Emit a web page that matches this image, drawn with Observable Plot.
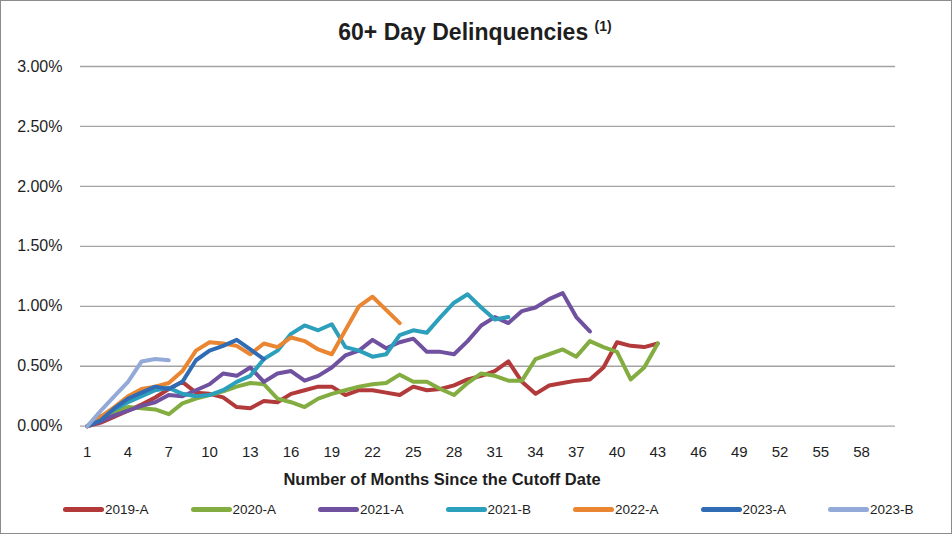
<!DOCTYPE html>
<html>
<head>
<meta charset="utf-8">
<script src="https://cdn.jsdelivr.net/npm/d3@7"></script>
<script src="https://cdn.jsdelivr.net/npm/@observablehq/plot@0.6"></script>
<style>
  html, body { margin: 0; padding: 0; background: #fff; }
  #wrap { position: relative; width: 952px; height: 534px; background: #fff; font-family: "Liberation Sans", Arial, sans-serif; color: #1e1e1e; overflow: hidden; }
  #frame { position: absolute; left: 0; top: 0; right: 0; bottom: 0; border: 1px solid #8c8c8c; pointer-events: none; }
  #title { position: absolute; left: 475px; top: 18px; transform: translateX(-50%); font-size: 23px; font-weight: bold; line-height: 28px; white-space: nowrap; }
  #title sup { font-size: 14px; vertical-align: 9px; line-height: 0; }
  #chart { position: absolute; left: 0; top: 0; }
  #xtitle { position: absolute; left: 442px; top: 469px; transform: translateX(-50%); font-size: 16.5px; font-weight: bold; line-height: 20px; white-space: nowrap; }
  .leg { position: absolute; top: 500px; height: 18px; display: flex; align-items: center; font-size: 13.5px; white-space: nowrap; }
  .sw { width: 41px; height: 5px; border-radius: 3px; margin-right: 1px; }
</style>
</head>
<body>
<div id="wrap">
  <div id="title">60+ Day Delinquencies <sup>(1)</sup></div>
  <div id="chart"></div>
  <div id="xtitle">Number of Months Since the Cutoff Date</div>
  <div id="legend"></div>
  <div id="frame"></div>
</div>
<script>
// Series values, percent, by month since cutoff (month 1 first)
const seriesNames = ["2019-A", "2020-A", "2021-A", "2021-B", "2022-A", "2023-A", "2023-B"];
const seriesColors = ["#b23a3a", "#83ad40", "#6f519f", "#2b9fbb", "#ea8532", "#2f6cb3", "#93aad8"];

const s2019A = [0, 0.03, 0.08, 0.13, 0.18, 0.24, 0.31, 0.37, 0.28, 0.27, 0.24, 0.16, 0.15, 0.21, 0.20, 0.27, 0.30, 0.33, 0.33, 0.26, 0.30, 0.30, 0.28, 0.26, 0.33, 0.30, 0.31, 0.34, 0.39, 0.42, 0.46, 0.54, 0.37, 0.27, 0.34, 0.36, 0.38, 0.39, 0.49, 0.70, 0.67, 0.66, 0.69];
const s2020A = [0, 0.05, 0.12, 0.16, 0.15, 0.14, 0.10, 0.19, 0.23, 0.26, 0.29, 0.33, 0.36, 0.35, 0.23, 0.20, 0.16, 0.23, 0.27, 0.30, 0.33, 0.35, 0.36, 0.43, 0.37, 0.37, 0.31, 0.26, 0.36, 0.44, 0.42, 0.38, 0.38, 0.56, 0.60, 0.64, 0.58, 0.71, 0.66, 0.62, 0.39, 0.49, 0.69];
const s2021A = [0, 0.04, 0.09, 0.13, 0.17, 0.20, 0.26, 0.25, 0.30, 0.35, 0.44, 0.42, 0.49, 0.37, 0.44, 0.46, 0.38, 0.42, 0.49, 0.59, 0.63, 0.72, 0.65, 0.70, 0.73, 0.62, 0.62, 0.60, 0.71, 0.84, 0.91, 0.86, 0.96, 0.99, 1.06, 1.11, 0.91, 0.79];
const s2021B = [0, 0.08, 0.14, 0.20, 0.25, 0.30, 0.32, 0.27, 0.25, 0.26, 0.30, 0.37, 0.42, 0.56, 0.63, 0.77, 0.84, 0.80, 0.85, 0.66, 0.63, 0.58, 0.60, 0.76, 0.80, 0.78, 0.91, 1.03, 1.10, 0.99, 0.89, 0.91];
const s2022A = [0, 0.08, 0.16, 0.25, 0.31, 0.33, 0.36, 0.46, 0.63, 0.70, 0.69, 0.67, 0.60, 0.69, 0.66, 0.74, 0.71, 0.64, 0.60, 0.80, 1.00, 1.08, 0.97, 0.86];
const s2023A = [0, 0.05, 0.15, 0.23, 0.28, 0.33, 0.31, 0.37, 0.55, 0.63, 0.67, 0.72, 0.64, 0.56];
const s2023B = [0, 0.13, 0.25, 0.37, 0.54, 0.56, 0.55];

const seriesValues = [s2019A, s2020A, s2021A, s2021B, s2022A, s2023A, s2023B];

const xTicks = [1, 4, 7, 10, 13, 16, 19, 22, 25, 28, 31, 34, 37, 40, 43, 46, 49, 52, 55, 58];
const yTicks = [0, 0.5, 1.0, 1.5, 2.0, 2.5, 3.0];
const monthCount = 60;

const data = seriesNames.flatMap((name, i) =>
  seriesValues[i].map((v, j) => ({series: name, month: j + 1, value: v}))
);

const chart = Plot.plot({
  width: 952,
  height: 470,
  marginLeft: 80,
  marginRight: 57,
  marginTop: 66,
  marginBottom: 44.3,
  style: {fontFamily: "'Liberation Sans', Arial, sans-serif", fontSize: "15px", color: "#1e1e1e", background: "transparent"},
  x: {domain: [0.5, monthCount + 0.5], ticks: xTicks, tickSize: 0, tickPadding: 20, label: null},
  y: {domain: [0, 3], ticks: yTicks, tickSize: 0, tickPadding: 18, label: null, tickFormat: d => d.toFixed(2) + "%"},
  color: {domain: seriesNames, range: seriesColors},
  marks: [
    Plot.ruleY(yTicks, {stroke: "#a3a3a3", strokeWidth: 1.3}),
    Plot.axisY({ticks: yTicks, tickSize: 0, tickPadding: 18, tickFormat: d => d.toFixed(2) + "%", fontSize: 16, label: null}),
    Plot.axisX({ticks: xTicks, tickSize: 0, tickPadding: 20, label: null, fontSize: 15}),
    Plot.line(data, {x: "month", y: "value", z: "series", stroke: "series", strokeWidth: 4, strokeLinejoin: "round", strokeLinecap: "round"})
  ]
});
document.getElementById("chart").appendChild(chart);

const legend = document.getElementById("legend");
seriesNames.forEach((name, i) => {
  const item = document.createElement("div");
  item.className = "leg";
  item.style.left = (63 + 127.5 * i) + "px";
  const sw = document.createElement("div");
  sw.className = "sw";
  sw.style.background = seriesColors[i];
  const lab = document.createElement("span");
  lab.textContent = name;
  item.appendChild(sw);
  item.appendChild(lab);
  legend.appendChild(item);
});
</script>
</body>
</html>
